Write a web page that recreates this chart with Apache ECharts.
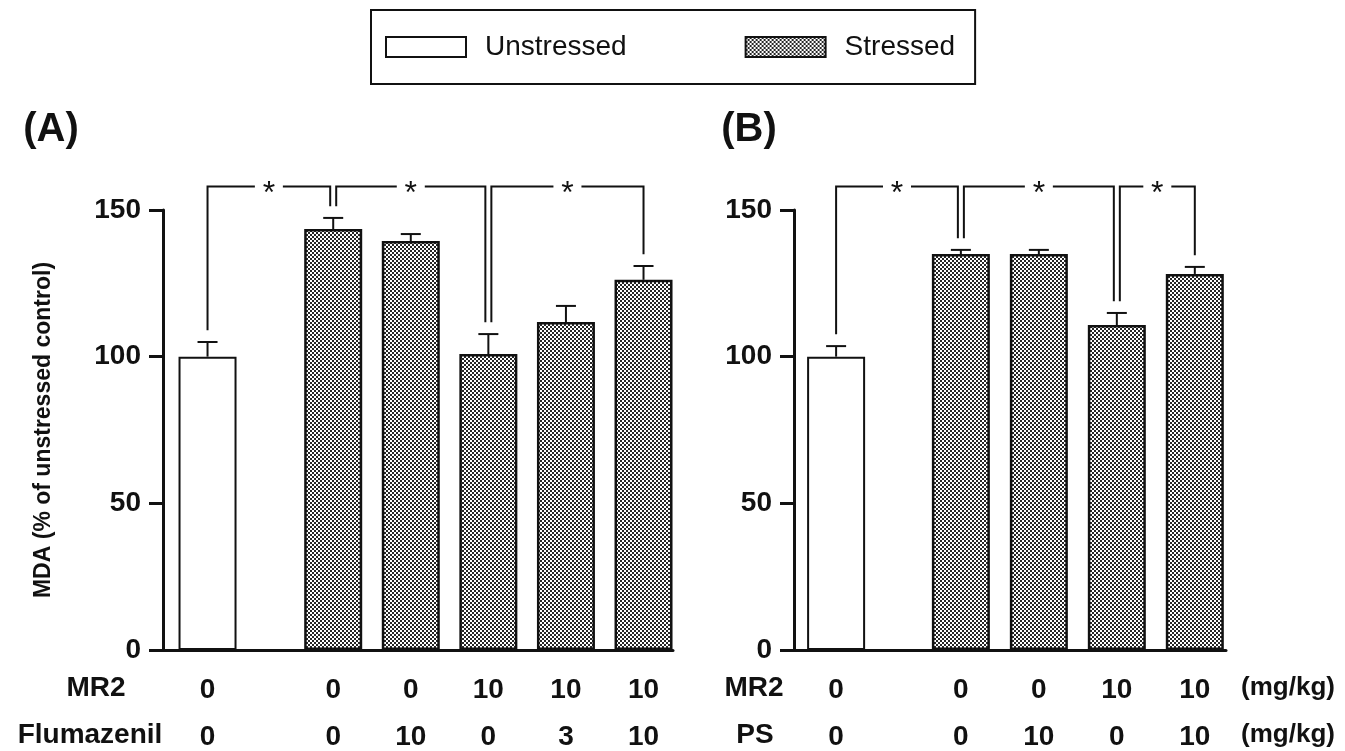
<!DOCTYPE html>
<html>
<head>
<meta charset="utf-8">
<script src="https://cdn.jsdelivr.net/npm/echarts@6/dist/echarts.min.js"></script>
<style>
  html, body { margin: 0; padding: 0; background: #fff; }
  #chart { width: 1345px; height: 751px; }
</style>
</head>
<body>
<div id="chart"></div>
<script>
// panel A: MR2 + flumazenil
var posA = [0, 1.62, 2.62, 3.62, 4.62, 5.62];
var meanA = [100, 143.5, 139.4, 100.9, 111.8, 126.2];
var errA = [5, 3.8, 2.4, 6.8, 5.5, 4.7];
var mr2A = ['0', '0', '0', '10', '10', '10'];
var fluA = ['0', '0', '10', '0', '3', '10'];
var sigA = [[0, 1], [1, 3], [3, 5]];

// panel B: MR2 + PS
var posB = [0, 1.6, 2.6, 3.6, 4.6];
var meanB = [100, 135, 135, 110.8, 128.2];
var errB = [3.6, 1.4, 1.4, 4.1, 2.4];
var mr2B = ['0', '0', '0', '10', '10'];
var psB = ['0', '0', '10', '0', '10'];
var sigB = [[0, 1], [1, 3], [3, 4]];

var LEVEL = 158;   // height of the significance brackets

var FONT = "'Liberation Sans', Arial, sans-serif";

function checker() {
    var c = document.createElement('canvas');
    c.width = 4; c.height = 4;
    var ctx = c.getContext('2d');
    ctx.fillStyle = '#fff';
    ctx.fillRect(0, 0, 4, 4);
    ctx.fillStyle = '#262626';
    ctx.fillRect(0, 0, 2, 2);
    ctx.fillRect(2, 2, 2, 2);
    return c;
}
var hatch = { image: checker(), repeat: 'repeat' };

function lookup(pos, labels) {
    return function (v) {
        for (var i = 0; i < pos.length; i++) {
            if (Math.abs(pos[i] - v) < 1e-6) return labels[i];
        }
        return '';
    };
}

function xAxisFor(grid, pos, labels, min, max, offset, withLine) {
    return {
        type: 'value', gridIndex: grid, min: min, max: max,
        position: 'bottom', offset: offset,
        axisLine: { show: withLine, onZero: false, lineStyle: { color: '#111', width: 3 } },
        axisTick: { show: false },
        splitLine: { show: false },
        axisLabel: {
            customValues: pos,
            formatter: lookup(pos, labels),
            color: '#111', fontSize: 28, fontWeight: 'bold', fontFamily: FONT, margin: 26
        }
    };
}

function yAxisFor(grid, name) {
    return {
        type: 'value', gridIndex: grid, min: 0, max: 150, interval: 50,
        position: 'left',
        name: name, nameLocation: 'middle', nameGap: 108,
        nameTextStyle: { color: '#111', fontSize: 23, fontWeight: 'bold', fontFamily: FONT },
        axisLine: { show: true, onZero: false, lineStyle: { color: '#111', width: 3 } },
        axisTick: { show: true, length: 14, lineStyle: { color: '#111', width: 3 } },
        splitLine: { show: false },
        axisLabel: { color: '#111', fontSize: 28, fontWeight: 'bold', fontFamily: FONT, margin: 22 }
    };
}

function errorSeries(xi, yi, pos, mean, err) {
    return {
        type: 'custom', xAxisIndex: xi, yAxisIndex: yi, clip: false, z: 5,
        encode: { x: 0, y: 1 },
        data: pos.map(function (p, i) { return [p, mean[i], err[i]]; }),
        renderItem: function (params, api) {
            var base = api.coord([api.value(0), api.value(1)]);
            var top = api.coord([api.value(0), api.value(1) + api.value(2)]);
            var st = { stroke: '#111', lineWidth: 2 };
            return {
                type: 'group', children: [
                    { type: 'line', shape: { x1: base[0], y1: base[1], x2: top[0], y2: top[1] }, style: st },
                    { type: 'line', shape: { x1: top[0] - 10, y1: top[1], x2: top[0] + 10, y2: top[1] }, style: st }
                ]
            };
        }
    };
}

function bracketSeries(xi, yi, pos, mean, err, sig) {
    var data = sig.map(function (s) {
        var a = s[0], b = s[1];
        var offL = sig.some(function (t) { return t[1] === a; }) ? 3 : 0;
        var offR = sig.some(function (t) { return t[0] === b; }) ? -3 : 0;
        return [pos[a], pos[b], mean[a] + err[a] + 4, mean[b] + err[b] + 4, offL, offR];
    });
    return {
        type: 'custom', xAxisIndex: xi, yAxisIndex: yi, clip: false, z: 6,
        encode: { x: [0, 1], y: [2, 3] },
        data: data,
        renderItem: function (params, api) {
            var L = api.coord([api.value(0), api.value(2)]);
            var R = api.coord([api.value(1), api.value(3)]);
            var lvl = api.coord([api.value(0), LEVEL])[1];
            var lx = L[0] + api.value(4), rx = R[0] + api.value(5);
            var mid = (lx + rx) / 2;
            var st = { stroke: '#111', lineWidth: 2, fill: null };
            return {
                type: 'group', children: [
                    { type: 'polyline', shape: { points: [[lx, L[1]], [lx, lvl], [mid - 14, lvl]] }, style: st },
                    { type: 'polyline', shape: { points: [[mid + 14, lvl], [rx, lvl], [rx, R[1]]] }, style: st },
                    { type: 'text', x: mid, y: lvl + 8,
                      style: { text: '*', fill: '#111', font: '32px ' + FONT, align: 'center', verticalAlign: 'middle' } }
                ]
            };
        }
    };
}

function barSeries(name, xi, yi, pos, mean, idx, style) {
    return {
        name: name, type: 'bar', xAxisIndex: xi, yAxisIndex: yi,
        barWidth: 58, barGap: '-100%', z: 3,
        itemStyle: style,
        data: idx.map(function (i) { return [pos[i], mean[i]]; })
    };
}

var whiteStyle = { color: '#fff', borderColor: '#111', borderWidth: 2 };
var hatchStyle = { color: hatch, borderColor: '#111', borderWidth: 2.5 };

function txt(x, y, s, size) {
    return {
        type: 'text', x: x, y: y,
        style: { text: s, fill: '#111', font: 'bold ' + size + 'px ' + FONT, align: 'center', verticalAlign: 'middle' }
    };
}

var chart = echarts.init(document.getElementById('chart'));
chart.setOption({
    animation: false,
    backgroundColor: '#fff',
    legend: {
        left: 371, top: 10,
        padding: [23, 20, 23, 14],
        borderColor: '#111', borderWidth: 2, borderRadius: 0,
        itemWidth: 80, itemHeight: 20, itemGap: 118,
        icon: 'rect',
        selectedMode: false,
        data: ['Unstressed', 'Stressed'],
        textStyle: { color: '#111', fontSize: 28, fontFamily: FONT, padding: [0, 0, 0, 14] }
    },
    grid: [
        { left: 163, top: 210, width: 510, height: 440 },
        { left: 794, top: 210, width: 432, height: 440 }
    ],
    xAxis: [
        xAxisFor(0, posA, mr2A, -0.574, 6.0, 0, true),
        xAxisFor(0, posA, fluA, -0.574, 6.0, 47, false),
        xAxisFor(1, posB, mr2B, -0.54, 5.0, 0, true),
        xAxisFor(1, posB, psB, -0.54, 5.0, 47, false)
    ],
    yAxis: [
        yAxisFor(0, 'MDA (% of unstressed control)'),
        yAxisFor(1, '')
    ],
    graphic: [
        txt(51, 130, '(A)', 40),
        txt(749, 130, '(B)', 40),
        txt(96, 688, 'MR2', 28),
        txt(90, 735, 'Flumazenil', 28),
        txt(754, 688, 'MR2', 28),
        txt(755, 735, 'PS', 28),
        txt(1288, 688, '(mg/kg)', 26),
        txt(1288, 735, '(mg/kg)', 26)
    ],
    series: [
        barSeries('Unstressed', 0, 0, posA, meanA, [0], whiteStyle),
        barSeries('Stressed', 0, 0, posA, meanA, [1, 2, 3, 4, 5], hatchStyle),
        errorSeries(0, 0, posA, meanA, errA),
        bracketSeries(0, 0, posA, meanA, errA, sigA),
        barSeries('Unstressed', 2, 1, posB, meanB, [0], whiteStyle),
        barSeries('Stressed', 2, 1, posB, meanB, [1, 2, 3, 4], hatchStyle),
        errorSeries(2, 1, posB, meanB, errB),
        bracketSeries(2, 1, posB, meanB, errB, sigB)
    ]
});
</script>
</body>
</html>
